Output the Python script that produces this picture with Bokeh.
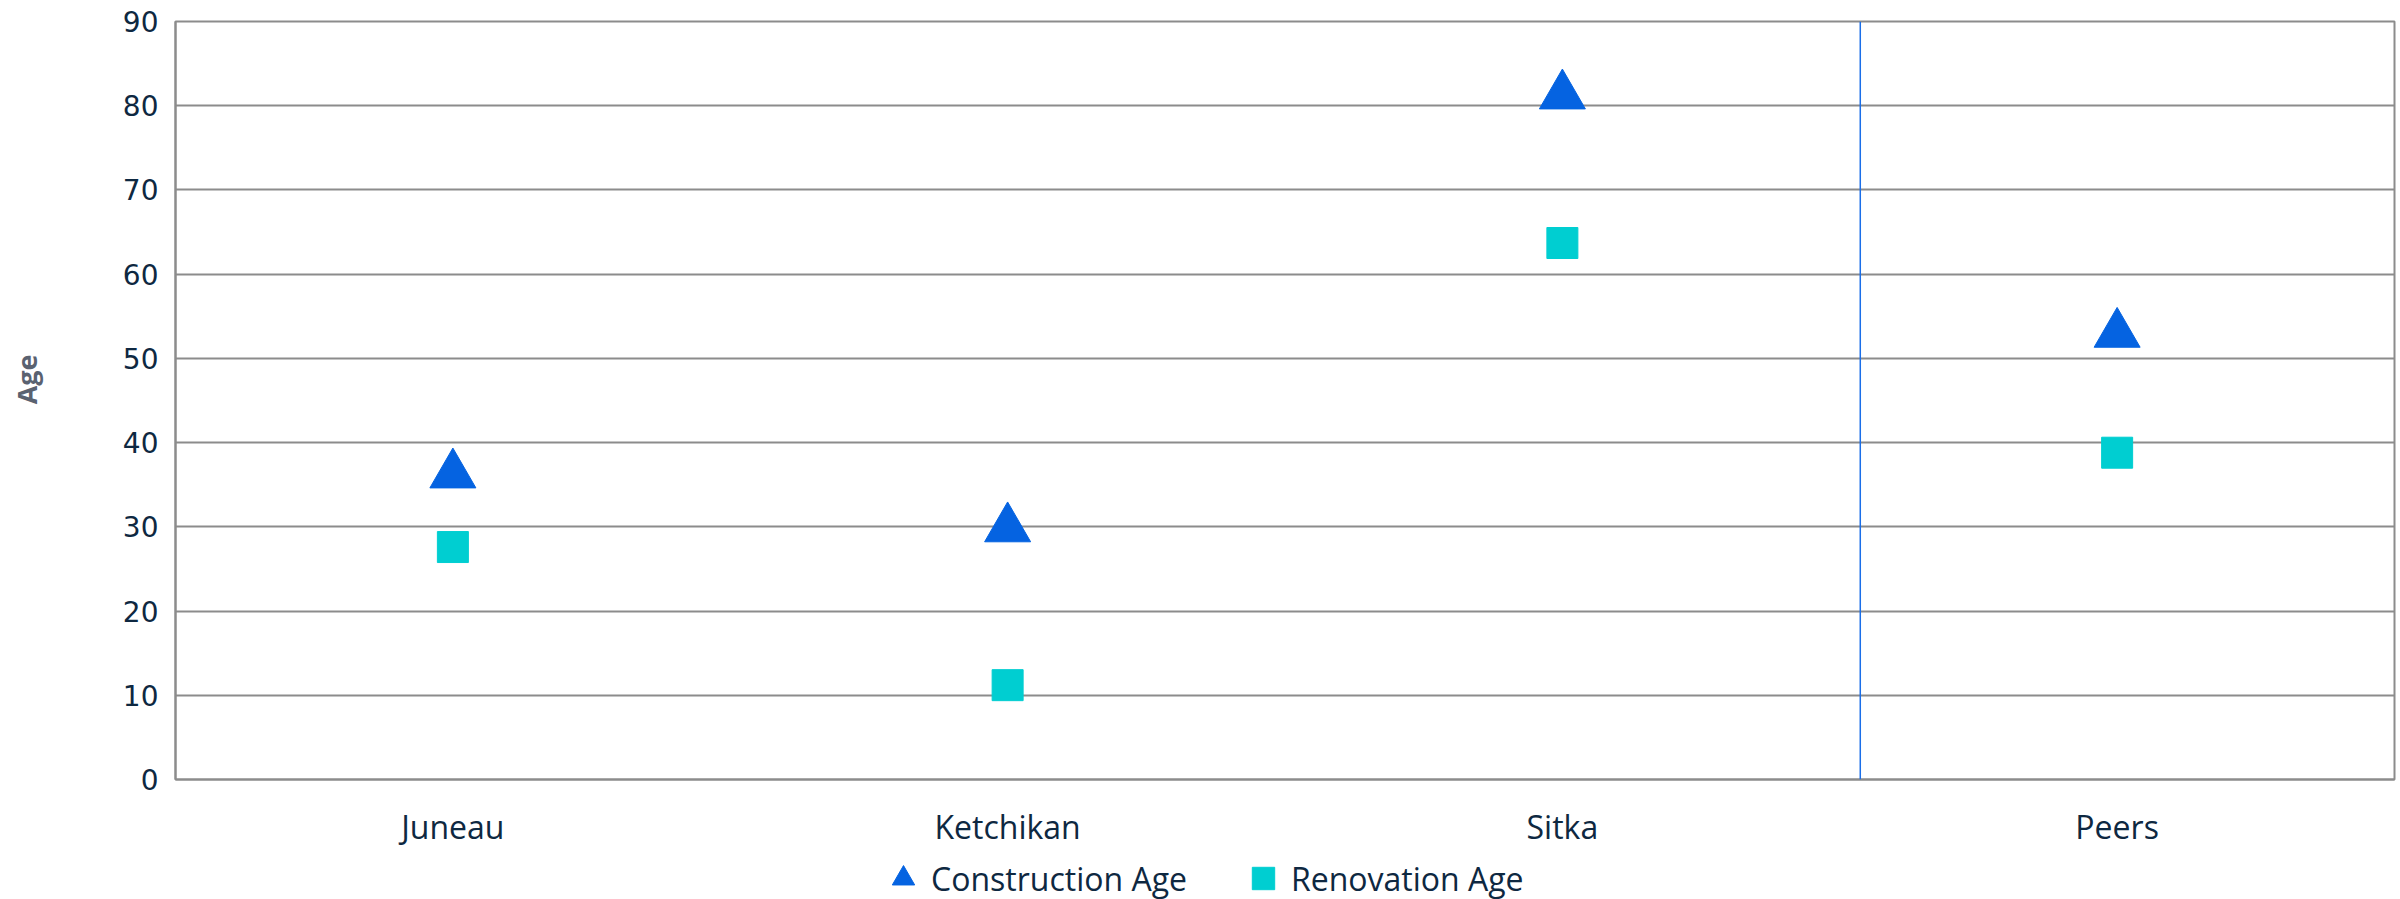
from bokeh.plotting import figure
from bokeh.layouts import column
from bokeh.models import FixedTicker, Span, Legend, LegendItem, Range1d, FactorRange, ColumnDataSource
from bokeh.transform import dodge
from bokeh.embed import file_html
from bokeh.resources import INLINE

facilities = ["Juneau", "Ketchikan", "Sitka", "Peers"]
construction_age = [36.9, 30.5, 81.9, 53.6]
renovation_age = [27.6, 11.2, 63.7, 38.8]
y_ticks = [0, 10, 20, 30, 40, 50, 60, 70, 80, 90]
series_names = ["Construction Age", "Renovation Age"]

NAVY = "#0E2841"
GRID = "#8C8C8C"
TRI_COLOR = "#0563E1"
SQ_COLOR = "#00CED1"

src = ColumnDataSource(dict(facility=facilities, construction=construction_age, renovation=renovation_age))

p = figure(x_range=FactorRange(*facilities), y_range=Range1d(0, 90),
           width=2400, height=856, output_backend="svg", toolbar_location=None,
           min_border_left=175, min_border_right=6, min_border_top=21, min_border_bottom=77,
           background_fill_color="white", border_fill_color="white")

p.outline_line_color = GRID
p.outline_line_width = 2

p.xgrid.grid_line_color = None
p.ygrid.ticker = FixedTicker(ticks=y_ticks)
p.ygrid.grid_line_color = GRID
p.ygrid.grid_line_width = 2

p.yaxis.ticker = FixedTicker(ticks=y_ticks)
p.yaxis.axis_line_color = GRID
p.yaxis.axis_line_width = 2
p.yaxis.major_tick_line_color = None
p.yaxis.minor_tick_line_color = None
p.yaxis.major_label_text_font = "DejaVu Sans"
p.yaxis.major_label_text_font_size = "28px"
p.yaxis.major_label_text_color = NAVY
p.yaxis.major_label_standoff = 11
p.yaxis.axis_label = "\u00a0\u00a0\u00a0\u00a0\u00a0\u00a0Age"
p.yaxis.axis_label_text_font = "Open Sans"
p.yaxis.axis_label_text_font_size = "27px"
p.yaxis.axis_label_text_font_style = "bold"
p.yaxis.axis_label_text_color = "#5A6270"
p.yaxis.axis_label_standoff = 75

p.xaxis.axis_line_color = GRID
p.xaxis.axis_line_width = 2
p.xaxis.major_tick_line_color = None
p.xaxis.minor_tick_line_color = None
p.xaxis.major_label_text_font = "Open Sans"
p.xaxis.major_label_text_font_size = "32px"
p.xaxis.major_label_text_color = NAVY
p.xaxis.major_label_standoff = 19

separator = Span(location=3.037, dimension="height", line_color="#1A6EE8", line_width=1.5)
p.add_layout(separator)

# Bokeh's triangle sits above its anchor point; shift it so its box is centred on the value
p.scatter(x="facility", y=dodge("construction", -0.7), source=src, marker="triangle", size=46,
          fill_color=TRI_COLOR, line_color=TRI_COLOR)
p.scatter(x="facility", y="renovation", source=src, marker="square", size=31,
          fill_color=SQ_COLOR, line_color=SQ_COLOR)

# legend strip below the chart (same data, drawn outside its visible range)
leg = figure(width=2400, height=43, output_backend="svg", toolbar_location=None,
             x_range=Range1d(-2, -1), y_range=Range1d(-2, -1),
             x_axis_location=None, y_axis_location=None, min_border=0,
             background_fill_color="white", border_fill_color="white")
leg.outline_line_color = None
leg.xgrid.grid_line_color = None
leg.ygrid.grid_line_color = None
l1 = leg.scatter(x="construction", y="construction", source=src, marker="triangle",
                 fill_color=TRI_COLOR, line_color=TRI_COLOR)
l2 = leg.scatter(x="renovation", y="renovation", source=src, marker="square",
                 fill_color=SQ_COLOR, line_color=SQ_COLOR)

legend = Legend(items=[LegendItem(label=series_names[0], renderers=[l1]),
                       LegendItem(label=series_names[1], renderers=[l2])],
                location=(700, -7), orientation="horizontal",
                glyph_width=56, glyph_height=56, label_standoff=0, spacing=48,
                padding=0, margin=0, border_line_color=None, background_fill_alpha=0,
                label_text_font="Open Sans", label_text_font_size="32px", label_text_color=NAVY)
leg.add_layout(legend, "center")

layout = column(p, leg, spacing=0)
open("out.html", "w").write(file_html(layout, INLINE))
